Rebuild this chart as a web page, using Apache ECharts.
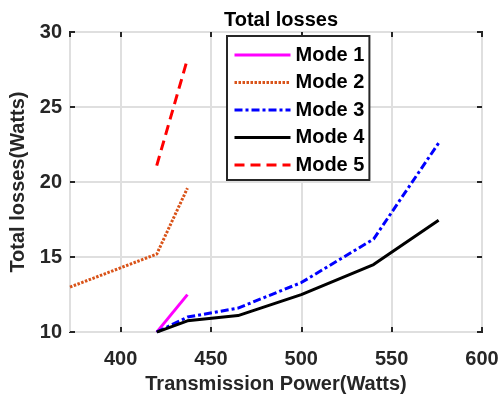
<!DOCTYPE html>
<html>
<head>
<meta charset="utf-8">
<script src="https://cdn.jsdelivr.net/npm/echarts@6/dist/echarts.min.js"></script>
<style>
  html, body { margin: 0; padding: 0; background: #fff; }
  #chart { width: 502px; height: 399px; }
</style>
</head>
<body>
<div id="chart"></div>
<script>
// values
const mode1X = [420, 437]
const mode1Y = [10, 12.5]
const mode2X = [372, 420, 437]
const mode2Y = [13.0, 15.2, 19.6]
const powerX = [420, 437, 465, 500, 540, 576]
const mode3Y = [10, 11.0, 11.6, 13.3, 16.2, 22.6]
const mode4Y = [10, 10.75, 11.1, 12.5, 14.5, 17.45]
const mode5X = [420, 437]
const mode5Y = [21.1, 28.2]

const font = "'Liberation Sans', Arial, sans-serif"
const ink = "#262626"

const pairs = (xs, ys) => xs.map((x, i) => [x, ys[i]])

const chart = echarts.init(document.getElementById("chart"))

const xCommon = {
  type: "value",
  min: 372,
  max: 600,
  splitNumber: 5,
  axisLine: { show: false },
  axisTick: { show: true, inside: true, length: 5, lineStyle: { color: ink, width: 2 } },
}
const yCommon = {
  type: "value",
  min: 10,
  max: 30,
  interval: 5,
  axisLine: { show: false },
  axisTick: { show: true, inside: true, length: 5, lineStyle: { color: ink, width: 2 } },
}

const line = (name, data, color, type) => ({
  name,
  type: "line",
  data,
  symbol: "none",
  clip: true,
  lineStyle: { color, width: 3, type },
  itemStyle: { color },
})

chart.setOption({
  animation: false,
  backgroundColor: "#fff",
  title: {
    text: "Total losses",
    left: 276,
    textAlign: "center",
    top: 5,
    textStyle: { fontFamily: font, fontSize: 20, fontWeight: "bold", color: "#000" },
  },
  grid: {
    left: 70, right: 20, top: 32, bottom: 65,
    show: true, borderColor: ink, borderWidth: 2,
  },
  legend: {
    orient: "vertical",
    left: 227,
    top: 36,
    padding: [9, 5, 5, 6],
    itemWidth: 56,
    itemHeight: 20,
    itemGap: 7.5,
    backgroundColor: "#fff",
    borderColor: ink,
    borderWidth: 2,
    borderRadius: 0,
    itemStyle: { opacity: 0 },
    lineStyle: { width: 3 },
    textStyle: { fontFamily: font, fontSize: 20, fontWeight: "bold", color: "#000", lineHeight: 20 },
    data: ["Mode 1", "Mode 2", "Mode 3", "Mode 4", "Mode 5"],
  },
  xAxis: [
    {
      ...xCommon,
      name: "Transmission Power(Watts)",
      nameLocation: "middle",
      nameGap: 40,
      nameTextStyle: { fontFamily: font, fontSize: 20, fontWeight: "bold", color: ink },
      axisLabel: { showMinLabel: false, margin: 17, fontFamily: font, fontSize: 20, fontWeight: "bold", color: ink },
      splitLine: { show: true, lineStyle: { color: "#dfdfdf", width: 2 } },
    },
    { ...xCommon, position: "top", axisLabel: { show: false }, splitLine: { show: false } },
  ],
  yAxis: [
    {
      ...yCommon,
      name: "Total losses(Watts)",
      nameLocation: "middle",
      nameGap: 36,
      nameTextStyle: { fontFamily: font, fontSize: 20, fontWeight: "bold", color: ink },
      axisLabel: { margin: 8, fontFamily: font, fontSize: 20, fontWeight: "bold", color: ink },
      splitLine: { show: true, lineStyle: { color: "#dfdfdf", width: 2 } },
    },
    { ...yCommon, position: "right", axisLabel: { show: false }, splitLine: { show: false } },
  ],
  series: [
    line("Mode 1", pairs(mode1X, mode1Y), "#ff00ff", "solid"),
    line("Mode 2", pairs(mode2X, mode2Y), "#d95319", [2.5, 1.5]),
    line("Mode 3", pairs(powerX, mode3Y), "#0000ff", [8, 3, 3, 3]),
    line("Mode 4", pairs(powerX, mode4Y), "#000000", "solid"),
    line("Mode 5", pairs(mode5X, mode5Y), "#ff0000", [10, 6]),
  ],
})
</script>
</body>
</html>
